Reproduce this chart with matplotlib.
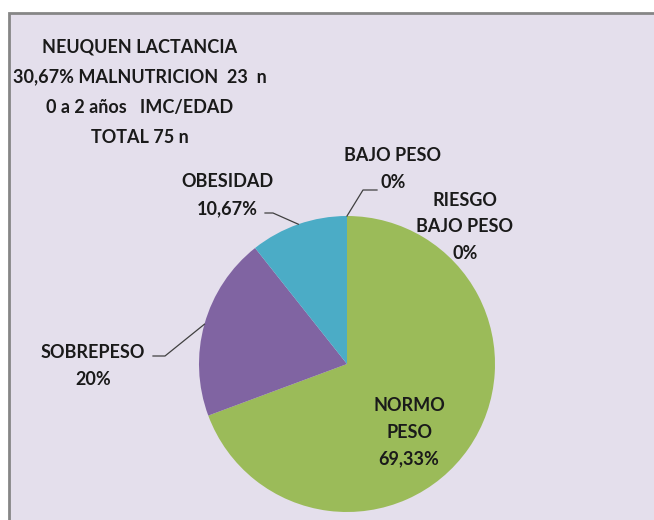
import matplotlib
matplotlib.use("Agg")
import matplotlib.pyplot as plt
import numpy as np
from matplotlib.patches import Rectangle

# datos: conteos (n = 75)
categorias = ["BAJO PESO", "RIESGO\nBAJO PESO", "NORMO\nPESO", "SOBREPESO", "OBESIDAD"]
conteos = [0, 0, 52, 15, 8]
porcentajes = ["0%", "0%", "69,33%", "20%", "10,67%"]
colores = ["#C0504D", "#F79646", "#9BBB59", "#8064A2", "#4BACC6"]
titulo = "NEUQUEN LACTANCIA\n30,67% MALNUTRICION  23  n\n0 a 2 años   IMC/EDAD\nTOTAL 75 n"

W, H = 654, 520
fig = plt.figure(figsize=(W / 100, H / 100), dpi=100)
fig.patch.set_facecolor("white")
ax = fig.add_axes([0, 0, 1, 1])

# fondo del area del grafico
ax.add_patch(Rectangle((9, -20), 700, H - 13 + 20, facecolor="#E4DFEC",
                       edgecolor="#868686", linewidth=2, zorder=0))

cx, cy, r = 347, 156, 148
wedges, _ = ax.pie(conteos, colors=colores, startangle=90, counterclock=False,
                   center=(cx, cy), radius=r, frame=True,
                   wedgeprops=dict(linewidth=0))
ax.set_xlim(0, W)
ax.set_ylim(0, H)
ax.set_aspect("equal")
ax.axis("off")

font = dict(family=["Lato", "DejaVu Sans"], fontweight="bold", fontsize=13,
            color="#1a1a1a", ha="center", va="center")

ax.text(140, H - 92, titulo, linespacing=1.93, **font)

def borde(w):
    a = np.deg2rad((w.theta1 + w.theta2) / 2)
    return cx + r * np.cos(a), cy + r * np.sin(a)

# posiciones de etiquetas (pixeles) y codos de las lineas guia
etiquetas = {
    0: ((393, 169), [(363, 190), (377, 190)]),
    1: ((465, 227), None),
    2: ((409, 432), None),
    3: ((93, 366), [(165, 356), (153, 356)]),
    4: ((227, 195), [(273, 213), (265, 213)]),
}
for i, w in enumerate(wedges):
    (x, y), guia = etiquetas[i]
    ax.text(x, H - y, categorias[i] + "\n" + porcentajes[i], linespacing=1.7, **font)
    if guia:
        px, py = borde(w)
        xs = [px] + [g[0] for g in guia]
        ys = [py] + [H - g[1] for g in guia]
        ax.plot(xs, ys, color="#404040", lw=0.9, zorder=3)

fig.savefig("out.png", dpi=100)
